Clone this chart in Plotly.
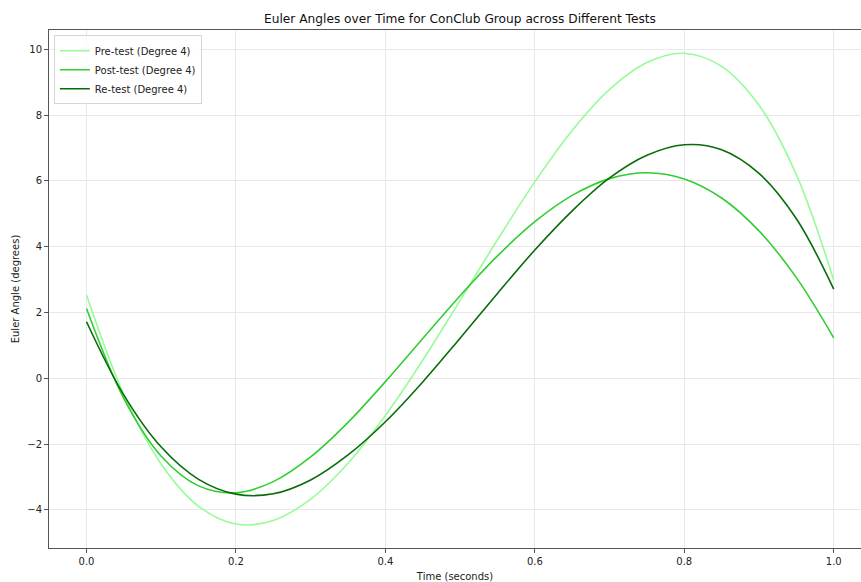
import plotly.graph_objects as go

time_s = [0.00, 0.05, 0.10, 0.15, 0.20, 0.25, 0.30, 0.35, 0.40, 0.45, 0.50,
          0.55, 0.60, 0.65, 0.70, 0.75, 0.80, 0.85, 0.90, 0.95, 1.00]

pre_test = [2.53, -0.50, -2.61, -3.89, -4.43, -4.32, -3.67, -2.58, -1.13, 0.55, 2.37,
            4.21, 5.97, 7.53, 8.78, 9.60, 9.88, 9.48, 8.30, 6.19, 2.98]
post_test = [2.12, -0.62, -2.37, -3.27, -3.48, -3.14, -2.39, -1.34, -0.10, 1.21, 2.51,
             3.72, 4.76, 5.56, 6.07, 6.25, 6.06, 5.48, 4.48, 3.06, 1.23]
re_test = [1.72, -0.51, -2.09, -3.07, -3.52, -3.51, -3.09, -2.33, -1.32, -0.11, 1.22,
           2.58, 3.90, 5.09, 6.09, 6.78, 7.10, 6.95, 6.23, 4.85, 2.71]

series_names = ["Pre-test (Degree 4)", "Post-test (Degree 4)", "Re-test (Degree 4)"]
series_values = [pre_test, post_test, re_test]
series_colors = ["#98FB98", "#32CD32", "#086C08"]

x_ticks = [0.0, 0.2, 0.4, 0.6, 0.8, 1.0]
y_ticks = [-4, -2, 0, 2, 4, 6, 8, 10]

FONT = "DejaVu Sans"

fig = go.Figure()
for name, vals, col in zip(series_names, series_values, series_colors):
    fig.add_trace(go.Scatter(
        x=time_s, y=vals, mode="lines", name=name,
        line=dict(color=col, width=1.6, shape="spline", smoothing=1.0),
    ))

fig.update_layout(
    width=861, height=582,
    margin=dict(l=49, r=0, t=30, b=34),
    paper_bgcolor="white", plot_bgcolor="white",
    font=dict(family=FONT, size=10, color="#222222"),
    title=dict(
        text="Euler Angles over Time for ConClub Group across Different Tests",
        font=dict(family=FONT, size=12.2, color="#111111"),
        x=460 / 861, xref="container", xanchor="center",
        y=1 - 19 / 582, yref="container", yanchor="middle",
    ),
    showlegend=True,
    legend=dict(
        x=0.006, y=0.99, xanchor="left", yanchor="top",
        bgcolor="rgba(255,255,255,0.85)", bordercolor="#d5d5d5", borderwidth=1,
        font=dict(family=FONT, size=10, color="#222222"),
        tracegroupgap=0, itemwidth=30,
    ),
)

fig.update_xaxes(
    range=[-0.0502, 1.0365],
    tickvals=x_ticks, tickformat=".1f",
    showgrid=True, gridcolor="#e8e8e8", gridwidth=1,
    zeroline=False,
    showline=True, linecolor="#555555", linewidth=1, mirror=True,
    ticks="outside", ticklen=4, tickcolor="#555555", tickwidth=1,
    title=dict(text="Time (seconds)", font=dict(family=FONT, size=10, color="#222222"), standoff=6),
    tickfont=dict(family=FONT, size=10, color="#222222"),
)
fig.update_yaxes(
    range=[-5.158, 10.587],
    tickvals=y_ticks,
    showgrid=True, gridcolor="#e8e8e8", gridwidth=1,
    zeroline=False,
    showline=True, linecolor="#555555", linewidth=1, mirror=False,
    ticks="outside", ticklen=4, tickcolor="#555555", tickwidth=1,
    title=dict(text="Euler Angle (degrees)", font=dict(family=FONT, size=10, color="#222222"), standoff=5),
    tickfont=dict(family=FONT, size=10, color="#222222"),
)

fig.write_html("out.html")
